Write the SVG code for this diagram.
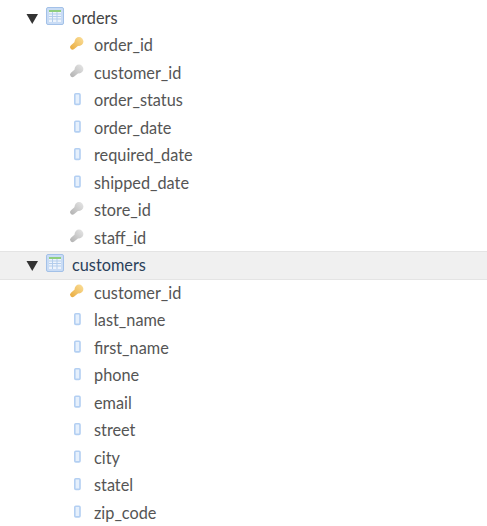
<svg xmlns="http://www.w3.org/2000/svg" width="487" height="526" viewBox="0 0 487 526">
<style>
text{font-family:Lato,"Open Sans",sans-serif;font-size:16.300px;fill:#555}
.h{fill:#444}
.hl{fill:#2a3f5a}
</style>
<defs>
<linearGradient id="gold" gradientUnits="userSpaceOnUse" x1="13" y1="0" x2="0" y2="13"><stop offset="0" stop-color="#fbdf9a"/><stop offset="1" stop-color="#e8a93a"/></linearGradient>
<linearGradient id="grey" gradientUnits="userSpaceOnUse" x1="13" y1="0" x2="0" y2="13"><stop offset="0" stop-color="#e6e6e6"/><stop offset="1" stop-color="#b0b0b0"/></linearGradient>
<symbol id="tbl" overflow="visible">
<rect x="0.500" y="0.500" width="17" height="17" rx="1.500" fill="#c9dcf5" stroke="#a3c1e8"/>
<rect x="3" y="3" width="12" height="12" fill="#eef4fc"/>
<rect x="3" y="3" width="12" height="2" fill="#8fce7d"/>
<path d="M3 7h12M3 9.500h12M3 12h12M6.500 5v10M11 5v10" stroke="#b3cdec" fill="none"/>
</symbol>
<symbol id="gk" overflow="visible">
<circle cx="9" cy="4.500" r="4.400" fill="url(#gold)"/>
<path d="M7.500 6L2.600 10.200" stroke="url(#gold)" stroke-width="5" stroke-linecap="round" fill="none"/>
</symbol>
<symbol id="sk" overflow="visible">
<circle cx="9" cy="4.500" r="4.400" fill="url(#grey)"/>
<path d="M7.500 6L2.600 10.200" stroke="url(#grey)" stroke-width="5" stroke-linecap="round" fill="none"/>
</symbol>
<symbol id="col" overflow="visible">
<rect x="0.800" y="0.800" width="5.200" height="10.600" rx="1" fill="#e6f0fc" stroke="#b3cff2" stroke-width="1.600"/>
</symbol>
<path id="tri" d="M0 0H11.500L5.750 10Z" fill="#333"/>
</defs>
<rect x="0" y="252" width="487" height="27.500" fill="#f0f0f0"/>
<path d="M0 251.500H487M0 279.500H487" stroke="#e4e4e4" fill="none"/>
<g id="connectors"/>
<g id="orders"><use href="#tri" x="26.500" y="14"/><use href="#tbl" x="46" y="7"/><text class="h" x="72" y="24">orders</text></g>
<g id="orders-order_id"><use href="#gk" x="70" y="37"/><text x="94" y="51">order_id</text></g>
<g id="orders-customer_id"><use href="#sk" x="70" y="64.500"/><text x="94" y="78.500">customer_id</text></g>
<g id="orders-order_status"><use href="#col" x="74" y="93"/><text x="94" y="106">order_status</text></g>
<g id="orders-order_date"><use href="#col" x="74" y="120.500"/><text x="94" y="133.500">order_date</text></g>
<g id="orders-required_date"><use href="#col" x="74" y="148"/><text x="94" y="161">required_date</text></g>
<g id="orders-shipped_date"><use href="#col" x="74" y="175.500"/><text x="94" y="188.500">shipped_date</text></g>
<g id="orders-store_id"><use href="#sk" x="70" y="202"/><text x="94" y="216">store_id</text></g>
<g id="orders-staff_id"><use href="#sk" x="70" y="229.500"/><text x="94" y="243.500">staff_id</text></g>
<g id="customers"><use href="#tri" x="26.500" y="261"/><use href="#tbl" x="46" y="254"/><text class="hl" x="72" y="271">customers</text></g>
<g id="customers-customer_id"><use href="#gk" x="70" y="284.500"/><text x="94" y="298.500">customer_id</text></g>
<g id="customers-last_name"><use href="#col" x="74" y="313"/><text x="94" y="326">last_name</text></g>
<g id="customers-first_name"><use href="#col" x="74" y="340.500"/><text x="94" y="353.500">first_name</text></g>
<g id="customers-phone"><use href="#col" x="74" y="368"/><text x="94" y="381">phone</text></g>
<g id="customers-email"><use href="#col" x="74" y="395.500"/><text x="94" y="408.500">email</text></g>
<g id="customers-street"><use href="#col" x="74" y="423"/><text x="94" y="436">street</text></g>
<g id="customers-city"><use href="#col" x="74" y="450.500"/><text x="94" y="463.500">city</text></g>
<g id="customers-statel"><use href="#col" x="74" y="478"/><text x="94" y="491">statel</text></g>
<g id="customers-zip_code"><use href="#col" x="74" y="505.500"/><text x="94" y="518.500">zip_code</text></g>
</svg>
